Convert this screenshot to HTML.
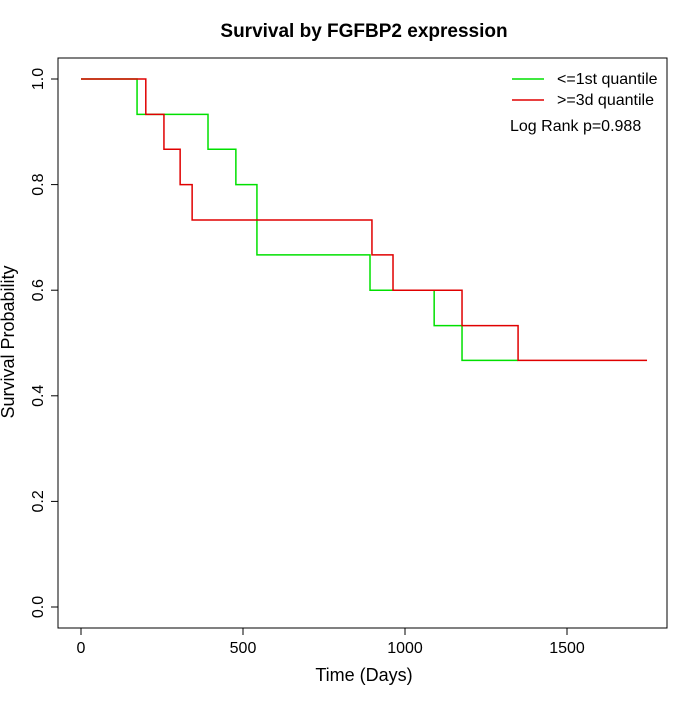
<!DOCTYPE html>
<html><head><meta charset="utf-8"><style>
body{margin:0;background:#fff}
svg text{font-family:"Liberation Sans",sans-serif}
</style></head><body>
<svg width="700" height="700" id="c">
<rect width="700" height="700" fill="#fff"/>
<text x="364" y="37" font-size="19" font-weight="bold" text-anchor="middle">Survival by FGFBP2 expression</text>
<rect x="58" y="58" width="609" height="570" fill="none" stroke="#000"/>
<text x="364" y="681" font-size="18" text-anchor="middle">Time (Days)</text>
<text transform="translate(14,342) rotate(-90)" font-size="18" text-anchor="middle">Survival Probability</text>
<g id="xt"></g><g id="yt"></g><g id="series"></g>
<g>
<line x1="512" y1="79" x2="544" y2="79" stroke="#00e000" stroke-width="1.5"/>
<text x="557" y="84" font-size="16">&lt;=1st quantile</text>
<line x1="512" y1="100" x2="544" y2="100" stroke="#e00000" stroke-width="1.5"/>
<text x="557" y="105" font-size="16">&gt;=3d quantile</text>
<text x="510" y="131" font-size="16">Log Rank p=0.988</text>
</g>
</svg>
<script>
const xTicks=[0,500,1000,1500];
const yTicks=[0,0.2,0.4,0.6,0.8,1.0];
const yTickLabels=["0.0","0.2","0.4","0.6","0.8","1.0"];
const lowTimes=[0,173,392,478,543,892,1090,1176,1349];
const lowSurv=[1.0,0.933,0.867,0.8,0.667,0.6,0.533,0.467,0.467];
const highTimes=[0,200,256,306,343,898,963,1176,1349,1747];
const highSurv=[1.0,0.933,0.867,0.8,0.733,0.667,0.6,0.533,0.467,0.467];
const NS="http://www.w3.org/2000/svg";
const X=t=>81+t*0.324, Y=s=>607-s*528;
function mk(tag,a,p){const e=document.createElementNS(NS,tag);for(const k in a)e.setAttribute(k,a[k]);p.appendChild(e);return e;}
const xt=document.getElementById('xt'),yt=document.getElementById('yt'),sr=document.getElementById('series');
mk('line',{x1:X(0),x2:X(1500),y1:628,y2:628,stroke:'#000'},xt);
xTicks.forEach(v=>{
 const l=mk('line',{x1:X(v),x2:X(v),y1:628,y2:635,stroke:'#000'},xt);
 
 
 const t=mk('text',{x:X(v),y:653,'font-size':16,'text-anchor':'middle'},xt);t.textContent=v;
 
 
});
mk('line',{x1:58,x2:58,y1:Y(0),y2:Y(1),stroke:'#000'},yt);
yTicks.forEach((v,i)=>{
 const l=mk('line',{x1:51,x2:58,y1:Y(v),y2:Y(v),stroke:'#000'},yt);
 
 
 const t=mk('text',{transform:`translate(43,${Y(v)}) rotate(-90)`,'font-size':16,'text-anchor':'middle'},yt);t.textContent=yTickLabels[i];
 
 
});
function step(ts,ss){let d=`M${X(ts[0])},${Y(ss[0])}`;for(let i=1;i<ts.length;i++){d+=`H${X(ts[i])}V${Y(ss[i])}`;}return d;}
const g=mk('path',{d:step(lowTimes,lowSurv),fill:'none',stroke:'#00e000','stroke-width':1.5},sr);


const r=mk('path',{d:step(highTimes,highSurv),fill:'none',stroke:'#e00000','stroke-width':1.5},sr);


</script>
</body></html>
